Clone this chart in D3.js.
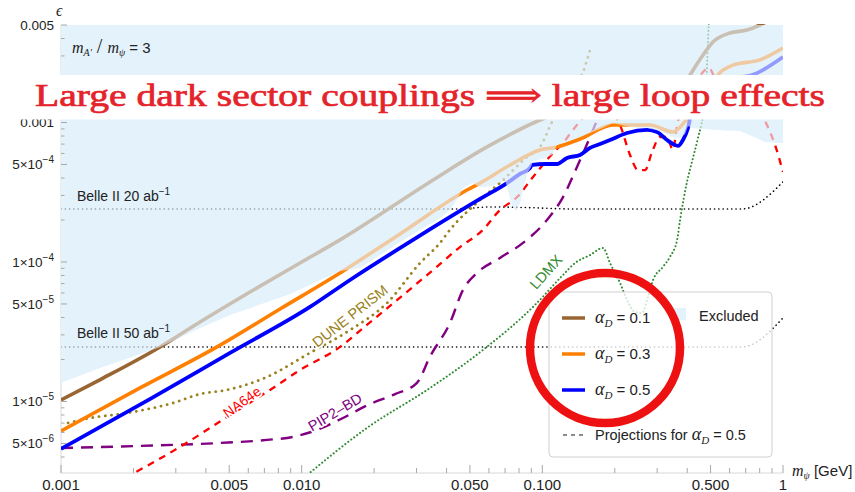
<!DOCTYPE html>
<html><head><meta charset="utf-8">
<script src="https://cdn.jsdelivr.net/npm/d3@7"></script>
<style>body{margin:0;background:#fff}svg{display:block}</style>
</head><body>
<svg id="c" width="855" height="492"></svg>
<script>
// ---------- data (mass m_psi [GeV], epsilon) ----------
const alpha01 = [[0.001,1.025e-5],[0.00145,1.43e-5],[0.00258,2.46e-5],[0.00378,3.71e-5],[0.0061,6.09e-5],[0.00984,9.83e-5],[0.01443,1.44e-4],[0.03415,3.75e-4],[0.05891,6.68e-4],[0.0978,1.042e-3],[0.1184,1.19e-3],[0.2103,1.57e-3],[0.3081,1.77e-3],[0.3735,1.65e-3],[0.411,2.19e-3],[0.4653,3.05e-3],[0.5117,3.78e-3],[0.6022,4.38e-3],[0.7084,4.6e-3],[0.8022,5.0e-3],[1,6.19e-3]];
const alpha03 = [[0.001,6.14e-6],[0.00213,1.25e-5],[0.00445,2.46e-5],[0.00813,4.6e-5],[0.01443,8.34e-5],[0.02563,1.59e-4],[0.04864,3.28e-4],[0.05508,3.68e-4],[0.07343,4.96e-4],[0.0978,6.35e-4],[0.115,6.68e-4],[0.1434,7.61e-4],[0.1966,9.59e-4],[0.2801,9.59e-4],[0.349,8.55e-4],[0.403,1.077e-3],[0.5633,2.38e-3],[0.62,2.58e-3],[0.8022,2.81e-3],[1,3.42e-3]];
const alpha05 = [[0.001,4.57e-6],[0.00234,1.04e-5],[0.00504,2.23e-5],[0.01083,4.76e-5],[0.01588,7.43e-5],[0.02902,1.44e-4],[0.05508,2.83e-4],[0.07129,3.68e-4],[0.08075,4.28e-4],[0.08888,4.72e-4],[0.09058,4.96e-4],[0.1026,5.04e-4],[0.115,5.04e-4],[0.1266,5.57e-4],[0.1434,5.85e-4],[0.1578,6.57e-4],[0.1737,7.01e-4],[0.1911,7.49e-4],[0.2249,8.41e-4],[0.2723,8.84e-4],[0.2995,8.55e-4],[0.3297,7.49e-4],[0.349,7.01e-4],[0.3664,6.79e-4],[0.384,7.49e-4],[0.403,9.13e-4],[0.4188,1.23e-3],[0.4519,1.45e-3],[0.5473,1.95e-3],[0.7797,2.26e-3],[1,2.95e-3]];
const belle20 = [[0.001,2.4e-4],[0.045,2.4e-4],[0.06,2.48e-4],[0.09,2.45e-4],[0.13,2.4e-4],[0.676,2.4e-4],[1,3.75e-4]];
const belle50 = [[0.001,2.46e-5],[0.676,2.46e-5],[1,3.97e-5]];
const na64e = [[0.001845,2.83e-6],[0.00312,4.72e-6],[0.0049,7.74e-6],[0.00739,1.21e-5],[0.00984,1.68e-5],[0.01443,2.46e-5],[0.01867,3.54e-5],[0.03513,8.76e-5],[0.0455,1.28e-4],[0.05666,1.7e-4],[0.0667,2.36e-4],[0.07849,2.92e-4],[0.09146,4.07e-4],[0.1107,6.04e-4],[0.1219,7.13e-4],[0.1341,8.84e-4],[0.1578,1.19e-3],[0.1822,1.27e-3],[0.2103,9.59e-4],[0.2314,5.85e-4],[0.2497,4.56e-4],[0.2671,4.56e-4],[0.2856,6.14e-4],[0.3081,7.87e-4],[0.3297,7.87e-4],[0.349,6.35e-4],[0.363,9.59e-4],[0.411,1.57e-3],[0.4926,2.46e-3],[0.5214,2.08e-3],[0.6627,1.45e-3],[0.8022,1.19e-3],[0.8577,9.59e-4],[0.9266,6.9e-4],[1,4.42e-4]];
const pip2bd = [[0.001,4.64e-6],[0.00213,4.8e-6],[0.00458,5.04e-6],[0.00718,5.3e-6],[0.0092,5.57e-6],[0.01158,6.25e-6],[0.01485,7.61e-6],[0.01886,9.44e-6],[0.02442,1.13e-5],[0.03014,1.36e-5],[0.03415,2.1e-5],[0.0413,3.65e-5],[0.04681,6.3e-5],[0.05352,8.34e-5],[0.0667,1.07e-4],[0.08311,1.37e-4],[0.1045,2.0e-4],[0.1219,2.92e-4],[0.1393,4.8e-4],[0.1624,8.84e-4],[0.1787,1.335e-3]];
const dunePrism = [[0.00107,7.01e-6],[0.00132,7.61e-6],[0.00188,8.27e-6],[0.00292,9.75e-6],[0.00378,1.13e-5],[0.0049,1.21e-5],[0.00718,1.5e-5],[0.01083,2.23e-5],[0.01588,3.25e-5],[0.02263,5.08e-5],[0.03104,9.83e-5],[0.03757,1.37e-4],[0.0413,1.7e-4],[0.05508,2.78e-4],[0.06866,3.87e-4],[0.08635,5.66e-4],[0.0978,6.68e-4],[0.1107,1.042e-3],[0.1303,1.71e-3],[0.1476,2.3e-3],[0.1578,3.31e-3]];
const ldmx = [[0.01032,2.88e-6],[0.01867,6.46e-6],[0.03415,1.25e-5],[0.05666,2.34e-5],[0.09146,4.76e-5],[0.1219,8.07e-5],[0.1367,9.83e-5],[0.1578,1.12e-4],[0.1787,1.26e-4],[0.1911,9.83e-5],[0.2103,7.07e-5],[0.2249,5.34e-5],[0.2427,4.38e-5],[0.2594,4.31e-5],[0.2749,5.61e-5],[0.2884,7.43e-5],[0.317,9.21e-5],[0.3392,1.09e-4],[0.363,1.44e-4],[0.3735,2.0e-4],[0.399,3.75e-4],[0.4227,5.57e-4],[0.4433,7.74e-4],[0.4653,1.13e-3],[0.4786,1.71e-3],[0.4877,3.78e-3],[0.4926,5.43e-3]];
const excludedEdge = [[0.001,1.36e-5],[0.00145,1.74e-5],[0.00258,2.46e-5],[0.00378,3.36e-5],[0.00504,4.17e-5],[0.00895,5.9e-5],[0.01443,8.62e-5],[0.01747,9.06e-5],[0.02563,1.39e-4],[0.03757,2.07e-4],[0.0413,2.36e-4],[0.04462,2.88e-4],[0.04681,3.39e-4],[0.05102,3.68e-4],[0.05508,3.45e-4],[0.06177,3.51e-4],[0.06997,3.87e-4],[0.07199,3.28e-4],[0.07482,2.56e-4],[0.07775,2.32e-4],[0.08075,2.65e-4],[0.08394,3.56e-4],[0.08718,4.42e-4],[0.08973,4.8e-4],[0.09146,5.3e-4],[0.1026,5.57e-4],[0.1097,5.85e-4],[0.115,6.9e-4],[0.1434,7.87e-4],[0.1737,8.98e-4],[0.1966,9.92e-4],[0.2314,9.28e-4],[0.2723,9.13e-4],[0.3081,8.69e-4],[0.349,7.87e-4],[0.3735,7.74e-4],[0.3915,8.27e-4],[0.403,9.44e-4],[0.4188,9.13e-4],[0.5473,8.84e-4],[0.6627,8.69e-4],[0.7433,8.0e-4],[0.8414,7.25e-4],[1,7.13e-4]];
const xTickLabels = [[0.001,"0.001"],[0.005,"0.005"],[0.01,"0.010"],[0.05,"0.050"],[0.1,"0.100"],[0.5,"0.500"],[1,"1"]];
const yTickLabels = [[0.005,"0.005",""],[0.001,"0.001",""],[5e-4,"5\u00d710","\u22124"],[1e-4,"1\u00d710","\u22124"],[5e-5,"5\u00d710","\u22125"],[1e-5,"1\u00d710","\u22125"],[5e-6,"5\u00d710","\u22126"]];
const legendAlphas = ["0.1","0.3","0.5"];

// ---------- setup ----------
const svg = d3.select("#c");
const x = d3.scaleLog().domain([0.001,1]).range([61,783]);
const y = d3.scaleLog().domain([3.07e-6,0.005]).range([473,25]);
const REG = "#e4f2fc";
const SANS = "'Liberation Sans', Arial, Helvetica, sans-serif";
const SERIF = "'Liberation Serif', 'DejaVu Serif', serif";
const colors = {a01:"#996633", a03:"#ff8000", a05:"#0000ff", na:"#ff0000", pip:"#800080", dune:"#9a8220", ldmx:"#2f8a2f"};

svg.append("defs").append("clipPath").attr("id","pc")
  .append("rect").attr("x",61).attr("y",24).attr("width",722).attr("height",449);

const line = d3.line().x(d=>x(d[0])).y(d=>y(d[1])).curve(d3.curveMonotoneX);
const lineLin = d3.line().x(d=>x(d[0])).y(d=>y(d[1]));
const regionPts = [[0.001,0.005]].concat(excludedEdge).concat([[1,0.005]]);
const regionPath = lineLin(regionPts) + "Z";

// axis lines
svg.append("line").attr("x1",61).attr("x2",61).attr("y1",25).attr("y2",473).attr("stroke","#d8d8d8");
svg.append("line").attr("x1",61).attr("x2",783).attr("y1",473).attr("y2",473).attr("stroke","#d8d8d8");

// region opaque
svg.append("path").attr("d",regionPath).attr("fill",REG);

const g = svg.append("g").attr("clip-path","url(#pc)");
function drawLine(data, color, w, dash, cap){
  g.append("path").attr("d",line(data)).attr("fill","none").attr("stroke",color)
   .attr("stroke-width",w).attr("stroke-dasharray",dash||null)
   .attr("stroke-linecap",cap||"butt").attr("stroke-linejoin","round");
}
drawLine(belle20,"#000",1.6,"0.1,4.2","round");
drawLine(belle50,"#000",1.6,"0.1,4.2","round");
drawLine(ldmx,colors.ldmx,2,"0.1,3.6","round");
drawLine(pip2bd,colors.pip,2.4,"12,8");
drawLine(na64e,colors.na,2.3,"7,6");
drawLine(dunePrism,colors.dune,2.8,"0.1,6.2","round");
drawLine(alpha01,colors.a01,3.6);
drawLine(alpha03,colors.a03,3.6);
drawLine(alpha05,colors.a05,3.8);

// region overlay to fade lines inside
svg.append("path").attr("d",regionPath).attr("fill",REG).attr("fill-opacity",0.64);

// ticks
const ticks = svg.append("g").attr("stroke","#a8a8a8").attr("stroke-width",1);
for(let e=-6;e<=-3;e++){for(let m=1;m<=9;m++){const v=m*Math.pow(10,e); if(v<3.07e-6||v>0.00501) continue;
  const major=(m===1||m===5); ticks.append("line").attr("x1",61).attr("x2",61+(major?6:3.5)).attr("y1",y(v)).attr("y2",y(v));}}
for(let e=-3;e<=0;e++){for(let m=1;m<=9;m++){const v=m*Math.pow(10,e); if(v>1.0001) continue;
  const major=(m===1||m===5); ticks.append("line").attr("y1",473).attr("y2",473-(major?8:5)).attr("x1",x(v)).attr("x2",x(v));}}

// tick labels
xTickLabels.forEach(([v,t])=>{
  svg.append("text").attr("x",x(v)).attr("y",490).attr("text-anchor","middle")
    .attr("font-family",SANS).attr("font-size",15).attr("fill","#222").text(t);
});
yTickLabels.forEach(([v,t,ex])=>{
  const tx = svg.append("text").attr("x",54).attr("y",y(v)+5).attr("text-anchor","end")
    .attr("font-family",SANS).attr("font-size",13.5).attr("fill","#222");
  tx.append("tspan").text(t);
  if(ex) tx.append("tspan").attr("dy",-6).attr("font-size",10).text(ex);
});
// axis titles
svg.append("text").attr("x",56).attr("y",16).attr("font-family",SERIF).attr("font-style","italic").attr("font-size",16).attr("fill","#222").text("\u03f5");
const xl = svg.append("text").attr("x",792).attr("y",476).attr("fill","#222");
xl.append("tspan").attr("font-family",SERIF).attr("font-style","italic").attr("font-size",16).text("m");
xl.append("tspan").attr("font-family",SERIF).attr("font-style","italic").attr("font-size",10).attr("dy",3).text("\u03c8");
xl.append("tspan").attr("font-family",SANS).attr("font-size",15).attr("dy",-3).text(" [GeV]");

// in-plot labels
const b20 = svg.append("text").attr("x",77).attr("y",201).attr("font-family",SANS).attr("font-size",14).attr("fill","#222");
b20.append("tspan").text("Belle II 20 ab"); b20.append("tspan").attr("dy",-6).attr("font-size",10).text("\u22121");
const b50 = svg.append("text").attr("x",77).attr("y",338).attr("font-family",SANS).attr("font-size",14).attr("fill","#222");
b50.append("tspan").text("Belle II 50 ab"); b50.append("tspan").attr("dy",-6).attr("font-size",10).text("\u22121");

const mr = svg.append("text").attr("x",72).attr("y",53).attr("fill","#222");
mr.append("tspan").attr("font-family",SERIF).attr("font-style","italic").attr("font-size",16).text("m");
mr.append("tspan").attr("font-family",SERIF).attr("font-style","italic").attr("font-size",10).attr("dy",3).text("A\u2032");
mr.append("tspan").attr("font-family",SERIF).attr("font-size",20).attr("dy",-3).text(" / ");
mr.append("tspan").attr("font-family",SERIF).attr("font-style","italic").attr("font-size",16).text("m");
mr.append("tspan").attr("font-family",SERIF).attr("font-style","italic").attr("font-size",10).attr("dy",3).text("\u03c8");
mr.append("tspan").attr("font-family",SANS).attr("font-size",15).attr("dy",-3).text(" = 3");

function rotLabel(txt,cx,cy,ang,col,fs){
  svg.append("text").attr("transform",`translate(${cx},${cy}) rotate(${ang})`).attr("text-anchor","middle")
   .attr("dy","0.35em").attr("font-family",SANS).attr("font-size",fs).attr("fill",col)
   .attr("stroke","#fff").attr("stroke-width",3.5).attr("stroke-linejoin","round").attr("paint-order","stroke")
   .text(txt);
}
rotLabel("NA64e",242,402,-36,colors.na,14);
rotLabel("PIP2\u2013BD",335,412,-31,colors.pip,14.5);
rotLabel("DUNE PRISM",350,316,-38,colors.dune,14.5);
rotLabel("LDMX",546,272,-48,colors.ldmx,14.5);

// legend
const lg = svg.append("g");
lg.append("rect").attr("x",549).attr("y",292).attr("width",223).attr("height",165).attr("rx",4)
  .attr("fill","#fff").attr("fill-opacity",0.78).attr("stroke","#d0d0d0");
const legCols=[colors.a01,colors.a03,colors.a05];
const rowsY=[318,354,390];
function alphaText(sel){
  sel.append("tspan").attr("font-family",SERIF).attr("font-style","italic").attr("font-size",18).text("\u03b1");
  sel.append("tspan").attr("font-family",SERIF).attr("font-style","italic").attr("font-size",11).attr("dy",4).text("D");
}
legendAlphas.forEach((a,i)=>{
  lg.append("line").attr("x1",562).attr("x2",585).attr("y1",rowsY[i]).attr("y2",rowsY[i]).attr("stroke",legCols[i]).attr("stroke-width",3.5);
  const t = lg.append("text").attr("x",595).attr("y",rowsY[i]+5).attr("fill","#222");
  alphaText(t);
  t.append("tspan").attr("font-family",SANS).attr("font-size",15).attr("dy",-4).text(" = "+a);
});
lg.append("rect").attr("x",673).attr("y",308).attr("width",13).attr("height",12).attr("fill",REG);
lg.append("text").attr("x",699).attr("y",321).attr("font-family",SANS).attr("font-size",14.5).attr("fill","#222").text("Excluded");
lg.append("line").attr("x1",563).attr("x2",585).attr("y1",435).attr("y2",435).attr("stroke","#8a8a8a").attr("stroke-width",2).attr("stroke-dasharray","4,4");
const pt = lg.append("text").attr("x",595).attr("y",440).attr("fill","#222");
pt.append("tspan").attr("font-family",SANS).attr("font-size",14.5).text("Projections for ");
alphaText(pt);
pt.append("tspan").attr("font-family",SANS).attr("font-size",14.5).attr("dy",-4).text(" = 0.5");

// banner
svg.append("rect").attr("x",0).attr("y",75).attr("width",855).attr("height",44.5).attr("fill","#fff");
svg.append("text").attr("x",35).attr("y",106).attr("font-family",SERIF).attr("font-size",32)
  .attr("fill","#e5232a").attr("stroke","#e5232a").attr("stroke-width",0.7)
  .attr("textLength",790).attr("lengthAdjust","spacingAndGlyphs")
  .text("Large dark sector couplings \u27f9 large loop effects");

// red circle
svg.append("circle").attr("cx",605).attr("cy",348).attr("r",75).attr("fill","none").attr("stroke","#ee1111").attr("stroke-width",8.5);
</script>
</body></html>
